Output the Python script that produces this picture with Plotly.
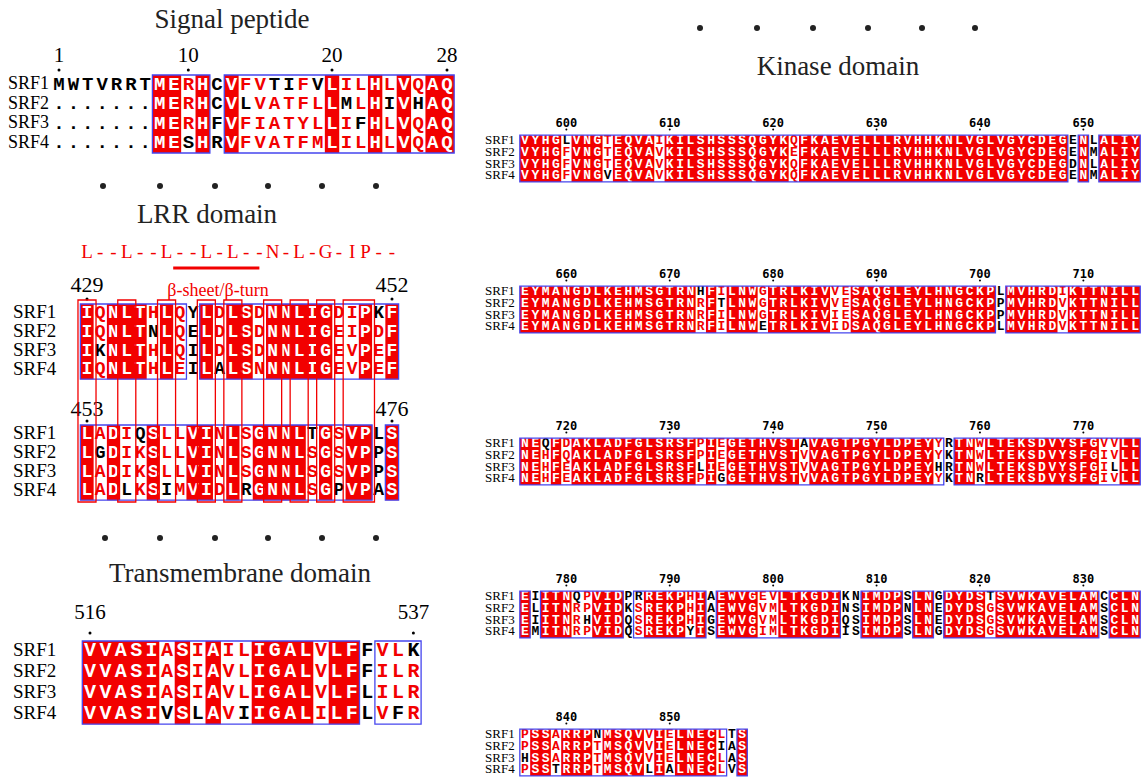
import plotly.graph_objects as go

# ---------------- DATA ----------------
NAMES = ["SRF1", "SRF2", "SRF3", "SRF4"]

# Signal peptide, residues 1-28 ('.' = gap)
signal_start = 1
signal_seqs = [
    "MWTVRRTMERHCVFVTIFVLILHLVQAQ",
    ".......MERHCVLVATFLLMLHIVHAQ",
    ".......MERHFVFIATYLLIFHLVQAQ",
    ".......MESHRVFVATFMLILHLVQAQ",
]
signal_ticks = [1, 10, 20, 28]
# similarity per non-identical column (1 = similar residue, 0 = not similar)
signal_sim = {0: "0000", 1: "0000", 2: "0000", 3: "0000", 4: "0000", 5: "0000", 6: "0000",
              9: "1110", 11: "0000", 13: "1011", 14: "1111", 15: "0111", 16: "0111",
              17: "1111", 18: "0111", 20: "1011", 21: "1101", 23: "1011", 25: "1011"}

# LRR domain, residues 429-476
lrr_consensus = "L--L--L--L-L--N-L-G-IP--"
lrr_label = "β-sheet/β-turn"
lrr_starts = [429, 453]
lrr_seqs = [
    ["IQNLTHLQYLDLSDNNLIGDIPKF",
     "IQNLTNLQELDLSDNNLIGEIPDF",
     "IKNLTHLQILDLSDNNLIGEVPEF",
     "IQNLTHLEILALSNNNLIGEVPEF"],
    ["LADIQSLLVINLSGNNLTGSVPLS",
     "LGDIKSLLVINLSGNNLSGSVPPS",
     "LADIKSLLVINLSGNNLSGSVPPS",
     "LADLKSIMVIDLRGNNLSGPVPAS"],
]
lrr_ticks = [[429, 452], [453, 476]]
lrr_sim = [
    {1: "1101", 5: "1011", 7: "1111", 8: "0000", 10: "1110", 13: "1111",
     19: "1111", 20: "1111", 22: "0111"},
    {1: "1011", 3: "1110", 4: "0111", 6: "1110", 7: "1111", 10: "1111",
     12: "1110", 17: "0111", 19: "1110", 22: "0000"},
]

# Transmembrane domain, residues 516-537
tm_start = 516
tm_seqs = [
    "VVASIASIAILIGALVLFFVLK",
    "VVASIASIAVLIGALVLFFILR",
    "VVASIASIAVLIGALVLFLILR",
    "VVASIVSLAVIIGALILFLVFR",
]
tm_ticks = [516, 537]
tm_sim = {5: "1110", 7: "1110", 9: "1111", 10: "1110", 15: "1111", 18: "0000",
          19: "1111", 20: "1110", 21: "0111"}

# Kinase domain, residues 596-857
kin_starts = [596, 656, 716, 776, 836]
kin_seqs = [
    ["VYHGLVNGTEQVAIKILSHSSSQGYKQFKAEVELLLRVHHKNLVGLVGYCDEGENLALIY",
     "VYHGFVNGTEQVAVKILSHSSSQGYKEFKAEVELLLRVHHKNLVGLVGYCDEGENMALIY",
     "VYHGFVNGTEQVAVKILSHSSSQGYKQFKAEVELLLRVHHKNLVGLVGYCDEGDNLALIY",
     "VYHGFVNGVEQVAVKILSHSSSQGYKQFKAEVELLLRVHHKNLVGLVGYCDEGENMALIY"],
    ["EYMANGDLKEHMSGTRNHFILNWGTRLKIVVESAQGLEYLHNGCKPLMVHRDIKTTNILL",
     "EYMANGDLKEHMSGTRNRFTLNWGTRLKIVVESAQGLEYLHNGCKPPMVHRDVKTTNILL",
     "EYMANGDLKEHMSGTRNRFILNWGTRLKIVIESAQGLEYLHNGCKPPMVHRDVKTTNILL",
     "EYMANGDLKEHMSGTRNRFILNWETRLKIVIDSAQGLEYLHNGCKPLMVHRDVKTTNILL"],
    ["NEQFDAKLADFGLSRSFPIEGETHVSTAVAGTPGYLDPEYYRTNWLTEKSDVYSFGVVLL",
     "NEHFQAKLADFGLSRSFPIEGETHVSTVVAGTPGYLDPEYYKTNWLTEKSDVYSFGIVLL",
     "NEHFEAKLADFGLSRSFLIEGETHVSTVVAGTPGYLDPEYHRTNWLTEKSDVYSFGILLL",
     "NEHFEAKLADFGLSRSFPIGGETHVSTVVAGTPGYLDPEYYKTNRLTEKSDVYSFGIVLL"],
    ["EIITNQPVIDPRREKPHIAEWVGEVLTKGDIKNIMDPSLNGDYDSTSVWKAVELAMCCLN",
     "ELITNRPVIDKSREKPHIAEWVGVMLTKGDINSIMDPNLNEDYDSGSVWKAVELAMSCLN",
     "EIITNRHVIDQSREKPHIGEWVGVMLTKGDIQSIMDPSLNEDYDSGSVWKAVELAMSCLN",
     "EMITNRPVIDQSREKPYISEWVGIMLTKGDIISIMDPSLNGDYDSGSVWKAVELAMSCLN"],
    ["PSSARRPNMSQVVIELNECLTS",
     "PSSARRPTMSQVVIELNECIAS",
     "HSSARRPTMSQVVIELNECLAS",
     "PSSTRRPTMSQVLIALNECLVS"],
]
kin_ticks = [
    [600, 610, 620, 630, 640, 650],
    [660, 670, 680, 690, 700, 710],
    [720, 730, 740, 750, 760, 770],
    [780, 790, 800, 810, 820, 830],
    [840, 850],
]
kin_sim = [
    {4: "0111", 8: "1110", 13: "1111", 26: "1111", 54: "1111", 56: "1111"},
    {17: "0111", 19: "1011", 23: "1110", 30: "1111", 31: "1111", 46: "0000", 52: "1111"},
    {2: "0111", 4: "1111", 17: "1101", 19: "1110", 27: "0111", 40: "1101", 41: "0000",
     44: "1110", 56: "1111", 57: "1101"},
    {1: "0000", 5: "0111", 6: "1101", 10: "0000", 11: "0111", 16: "1110", 18: "0000",
     23: "1111", 24: "1111", 32: "0000", 33: "0111", 38: "1011", 40: "0000", 45: "0111",
     57: "0111"},
    {0: "1101", 3: "1110", 7: "0111", 12: "1110", 14: "1110", 19: "1011", 20: "0000"},
]

section_titles = ["Signal peptide", "LRR domain", "Transmembrane domain", "Kinase domain"]

# ---------------- STYLE / LAYOUT ----------------
W, H = 1143, 781
RED = "#f20000"
BLUE = "#4646ee"
MONO = "Liberation Mono"
SERIF = "Liberation Serif"

fig = go.Figure()
shapes = []


def runs(flags):
    out, start = [], None
    for j, f in enumerate(flags + [False]):
        if f and start is None:
            start = j
        elif not f and start is not None:
            out.append((start, j - 1))
            start = None
    return out


def draw_block(seqs, sim, start, ticks, g):
    x0, w, top, h = g["x0"], g["w"], g["top"], g["h"]
    n = len(seqs[0])
    ident, boxed = [], []
    for j in range(n):
        col = [s[j] for s in seqs]
        is_id = len(set(col)) == 1 and col[0] != "."
        ident.append(is_id)
        boxed.append(is_id or ("1" in sim.get(j, "0000")))
    # red backgrounds for strictly conserved columns
    for a, b in runs(ident):
        shapes.append(dict(type="rect", xref="x", yref="y", layer="below",
                           x0=x0 + (a - 0.5) * w, x1=x0 + (b + 0.5) * w,
                           y0=top, y1=top + len(seqs) * h,
                           fillcolor=RED, line=dict(width=0)))
    # blue frames around similar regions
    for a, b in runs(boxed):
        shapes.append(dict(type="rect", xref="x", yref="y", layer="above",
                           x0=x0 + (a - 0.5) * w, x1=x0 + (b + 0.5) * w,
                           y0=top, y1=top + len(seqs) * h,
                           fillcolor="rgba(0,0,0,0)", line=dict(color=BLUE, width=1.3)))
    xs, ys, ts, cs = [], [], [], []
    for i, s in enumerate(seqs):
        for j, ch in enumerate(s):
            xs.append(x0 + j * w)
            ys.append(top + (i + 0.5) * h)
            ts.append(ch)
            if ident[j]:
                cs.append("white")
            elif ch != "." and sim.get(j, "0000")[i] == "1":
                cs.append(RED)
            else:
                cs.append("black")
    fig.add_trace(go.Scatter(x=xs, y=ys, text=ts, mode="text",
                             textfont=dict(family=MONO, size=g["size"], color=cs, weight="bold"),
                             hoverinfo="skip"))
    # sequence names
    if g.get("names", True):
        fig.add_trace(go.Scatter(x=[g["name_x"]] * len(seqs),
                                 y=[top + (i + 0.5) * h for i in range(len(seqs))],
                                 text=NAMES, mode="text", textposition="middle right",
                                 textfont=dict(family=SERIF, size=g["name_size"], color="black"),
                                 hoverinfo="skip"))
    # numbering
    tx = [x0 + (t - start) * w for t in ticks]
    fig.add_trace(go.Scatter(x=tx, y=[g["num_y"]] * len(ticks), text=[str(t) for t in ticks],
                             mode="text",
                             textfont=dict(family=g.get("num_font", SERIF), size=g["num_size"],
                                           color="black", weight=g.get("num_weight", "normal")),
                             hoverinfo="skip"))
    fig.add_trace(go.Scatter(x=tx, y=[g["dot_y"]] * len(ticks), mode="markers",
                             marker=dict(color="black", size=g.get("dot_size", 3)),
                             hoverinfo="skip"))


# Signal peptide
draw_block(signal_seqs, signal_sim, signal_start, signal_ticks,
           dict(x0=59, w=14.37, top=75, h=19.5, size=19, name_x=8, name_size=18,
                num_y=57, num_size=21, dot_y=70))

# LRR domain
lrr_geo = [dict(x0=87, w=13.26, top=304, h=18.8, size=18, name_x=13, name_size=19,
                num_y=286, num_size=22, dot_y=299),
           dict(x0=87, w=13.26, top=425, h=18.8, size=18, name_x=13, name_size=19,
                num_y=410, num_size=22, dot_y=421)]
for seqs, sim, st, tk, g in zip(lrr_seqs, lrr_sim, lrr_starts, lrr_ticks, lrr_geo):
    draw_block(seqs, sim, st, tk, g)

# LRR consensus + red frames over consensus positions
lx0, lw = 87, 13.26
fig.add_trace(go.Scatter(x=[lx0 + j * lw for j in range(len(lrr_consensus))],
                         y=[253] * len(lrr_consensus), text=list(lrr_consensus), mode="text",
                         textfont=dict(family=SERIF, size=19, color=RED), hoverinfo="skip"))
for a, b in runs([c != "-" for c in lrr_consensus]):
    shapes.append(dict(type="rect", xref="x", yref="y", layer="above",
                       x0=lx0 + (a - 0.68) * lw, x1=lx0 + (b + 0.68) * lw, y0=300, y1=502,
                       fillcolor="rgba(0,0,0,0)", line=dict(color=RED, width=1.3)))
shapes.append(dict(type="line", xref="x", yref="y", x0=lx0 + 6.5 * lw, x1=lx0 + 13.0 * lw,
                   y0=268, y1=268, line=dict(color=RED, width=3)))
fig.add_trace(go.Scatter(x=[218], y=[291], text=[lrr_label], mode="text",
                         textfont=dict(family=SERIF, size=18, color=RED), hoverinfo="skip"))

# Transmembrane
draw_block(tm_seqs, tm_sim, tm_start, tm_ticks,
           dict(x0=90, w=15.4, top=641, h=20.8, size=20, name_x=13, name_size=19,
                num_y=614, num_size=21, dot_y=633))

# Kinase
kin_first = [141, 292, 444, 597, 735]
for seqs, sim, st, tk, c in zip(kin_seqs, kin_sim, kin_starts, kin_ticks, kin_first):
    draw_block(seqs, sim, st, tk,
               dict(x0=525, w=10.34, top=c - 5.85, h=11.7, size=13, name_x=485, name_size=13,
                    num_y=c - 17, num_size=12, dot_y=c - 11.5, dot_size=2,
                    num_font="DejaVu Sans Mono", num_weight="bold"))

# Section titles
fig.add_trace(go.Scatter(x=[232, 207, 240, 838], y=[21, 216, 575, 68], text=section_titles,
                         mode="text", textfont=dict(family=SERIF, size=27, color="#222"),
                         hoverinfo="skip"))

# separator dots
sep_x = [[103, 160, 215, 268, 322, 376], [105, 160, 215, 268, 322, 376],
         [700, 757, 813, 868, 922, 975]]
sep_y = [186, 538, 28]
for xs_, y_ in zip(sep_x, sep_y):
    fig.add_trace(go.Scatter(x=xs_, y=[y_] * len(xs_), mode="markers",
                             marker=dict(color="#222", size=6), hoverinfo="skip"))

fig.update_layout(
    width=W, height=H, margin=dict(l=0, r=0, t=0, b=0),
    paper_bgcolor="white", plot_bgcolor="white", showlegend=False,
    xaxis=dict(range=[0, W], visible=False, fixedrange=True),
    yaxis=dict(range=[H, 0], visible=False, fixedrange=True),
    shapes=shapes, hovermode=False,
)
fig.write_html("out.html")
